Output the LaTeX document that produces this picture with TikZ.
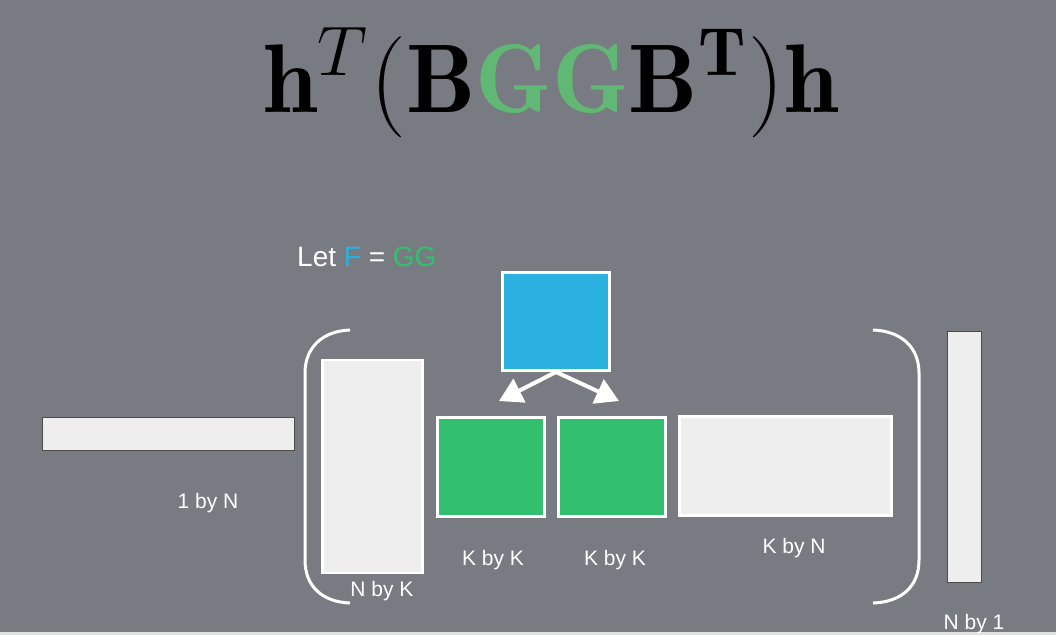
\documentclass[tikz,border=0pt]{standalone}
\usepackage{amsmath}
\usepackage{graphicx}
\usepackage{fontspec}
\newfontfamily\labfont{Liberation Sans}
\usetikzlibrary{arrows.meta}
\definecolor{bgc}{RGB}{120,123,130}
\definecolor{greenbox}{RGB}{50,192,110}
\definecolor{bluebox}{RGB}{43,177,224}
\definecolor{formgreen}{RGB}{96,184,116}
\definecolor{lightbox}{RGB}{238,238,238}
\definecolor{edgegray}{RGB}{75,75,75}
\definecolor{stripc}{RGB}{226,226,226}
\tikzset{
  mat/.style={draw=white, line width=2.5pt, fill=lightbox, inner sep=0pt},
  vec/.style={draw=edgegray, line width=1pt, fill=lightbox, inner sep=0pt},
  gbox/.style={draw=white, line width=3pt, fill=greenbox, inner sep=0pt},
  bbox/.style={draw=white, line width=3pt, fill=bluebox, inner sep=0pt},
  lab/.style={text=white, font=\labfont\fontsize{21}{21}\selectfont, anchor=base, inner sep=0pt},
  paren/.style={draw=white, line width=3pt},
  fwd/.style={draw=white, line width=4pt, -{Triangle[length=23pt,width=26pt]}}
}
\begin{document}
\begin{tikzpicture}[x=1pt,y=-1pt]
\fill[bgc] (0,0) rectangle (1056,635);
\fill[stripc] (0,632) rectangle (1056,635);
\useasboundingbox (0,0) rectangle (1056,635);

% formula
\node[anchor=base, inner sep=0pt] (formula) at (551,112)
  {\scalebox{4.88}{\fontsize{20}{20}\selectfont$\mathbf{h}^T(\mathbf{B}\textcolor{formgreen}{\mathbf{GG}}\mathbf{B}^{\mathbf{T}})\mathbf{h}$}};

% Let F = GG
\node[anchor=base west, inner sep=0pt, text=white, font=\labfont\fontsize{28}{28}\selectfont] (let) at (297,266)
  {Let \textcolor{bluebox}{F} = \textcolor{greenbox}{GG}};

% 1 by N
\node[vec, minimum width=252pt, minimum height=33pt] (hT) at (168,433.5) {};
\node[lab] (hTlab) at (208,508) {1 by N};

% parentheses
\draw[paren] (350,330) .. controls (322,331) and (305,348) .. (305,373) -- (305,560) .. controls (305,586) and (322,602) .. (350,603);
\draw[paren] (873,330) .. controls (902,331) and (919,348) .. (919,373) -- (919,560) .. controls (919,586) and (902,602) .. (873,603);

% N by K
\node[mat, minimum width=100pt, minimum height=213pt] (B) at (372.5,466.5) {};
\node[lab] (Blab) at (382,596) {N by K};

% green boxes
\node[gbox, minimum width=107pt, minimum height=99pt] (G1) at (490.5,467) {};
\node[lab] (G1lab) at (493,565) {K by K};
\node[gbox, minimum width=107pt, minimum height=99pt] (G2) at (611.5,467) {};
\node[lab] (G2lab) at (615,565) {K by K};

% K by N
\node[mat, minimum width=212pt, minimum height=99pt, line width=3pt] (BT) at (785.5,465.5) {};
\node[lab] (BTlab) at (794,553) {K by N};

% N by 1
\node[vec, minimum width=34pt, minimum height=251pt] (h) at (964,456.5) {};
\node[lab] (hlab) at (974,629) {N by 1};

% blue box
\node[bbox, minimum width=107pt, minimum height=98pt] (F) at (556,321.5) {};
\coordinate (tipL) at (499,401);
\coordinate (tipR) at (619,401);
\draw[fwd] (F.south) -- (tipL);
\draw[fwd] (F.south) -- (tipR);
\end{tikzpicture}
\end{document}
